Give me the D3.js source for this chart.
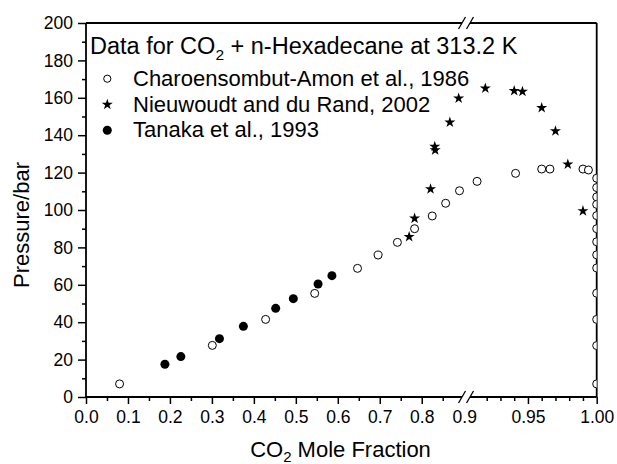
<!DOCTYPE html>
<html>
<head>
<meta charset="utf-8">
<script src="https://cdn.jsdelivr.net/npm/d3@7"></script>
<style>
  body { margin: 0; background: #fff; }
  svg { display: block; font-family: "Liberation Sans", Arial, sans-serif; }
  .tick text { font-size: 17.5px; fill: #000; }
  .tick line { stroke: #000; stroke-width: 1.5; }
</style>
</head>
<body>
<div id="chart"></div>
<script>
// Charoensombut-Amon et al., 1986 (open circles)
const charoX = [0.080, 0.301, 0.428, 0.545, 0.647, 0.696, 0.742, 0.783, 0.825, 0.857, 0.890,
  0.913, 0.941, 0.960, 0.966, 0.990, 0.994,
  1.0, 1.0, 1.0, 1.0, 1.0, 1.0, 1.0, 1.0, 1.0, 1.0, 1.0, 1.0, 1.0];
const charoP = [7, 27.6, 41.5, 55.4, 68.8, 75.9, 82.7, 90, 96.8, 103.6, 110.3,
  115.3, 119.6, 121.9, 121.9, 121.9, 121.4,
  117, 112, 107, 103, 97, 90, 83, 76, 69, 55.5, 41.5, 27.5, 7];

// Nieuwoudt and du Rand, 2002 (stars)
const nieuX = [0.770, 0.783, 0.821, 0.831, 0.832, 0.867, 0.888, 0.919, 0.940, 0.946, 0.960, 0.970, 0.979, 0.990];
const nieuP = [85.7, 95.5, 111.2, 133.9, 132, 146.9, 159.7, 165.1, 163.8, 163.3, 154.7, 142.2, 124.4, 99.5];

// Tanaka et al., 1993 (filled circles)
const tanaX = [0.188, 0.226, 0.318, 0.375, 0.452, 0.494, 0.553, 0.586];
const tanaP = [17.5, 21.6, 31.2, 37.8, 47.4, 52.6, 60.4, 64.9];

const xMajorLeft = [0, 0.1, 0.2, 0.3, 0.4, 0.5, 0.6, 0.7, 0.8];
const xMinorLeft = [0.05, 0.15, 0.25, 0.35, 0.45, 0.55, 0.65, 0.75, 0.85];
const xMajorRight = [0.95, 1.0];
const xMinorRight = [0.92, 0.93, 0.94, 0.96, 0.97, 0.98, 0.99];
const yMajor = [0, 20, 40, 60, 80, 100, 120, 140, 160, 180, 200];
const yMinor = [10, 30, 50, 70, 90, 110, 130, 150, 170, 190];

const W = 617, H = 464;
const box = { left: 86, right: 596.7, top: 23, bottom: 397 };
const breakL = 462, breakR = 470;

const svg = d3.select("#chart").append("svg")
  .attr("width", W)
  .attr("height", H);

// broken x axis: two linear pieces
const xl = d3.scaleLinear().domain([0, 0.9]).range([box.left, 463.7]);
const xr = d3.scaleLinear().domain([0.9, 1.0]).range([459.2, box.right]);
const x = v => (v <= 0.9 ? xl(v) : xr(v));
const y = d3.scaleLinear().domain([0, 200]).range([box.bottom, box.top]);

svg.append("clipPath").attr("id", "plotclip")
  .append("rect")
  .attr("x", box.left).attr("y", box.top)
  .attr("width", box.right - box.left).attr("height", box.bottom - box.top);

// axes
function addAxis(axis, tx, ty) {
  const g = svg.append("g")
    .attr("transform", `translate(${tx},${ty})`)
    .call(axis);
  g.select(".domain").remove();
  return g;
}

addAxis(d3.axisLeft(y).tickValues(yMajor).tickSize(8).tickPadding(5), box.left, 0);
addAxis(d3.axisLeft(y).tickValues(yMinor).tickSize(4).tickFormat(""), box.left, 0);

addAxis(d3.axisBottom(xl).tickValues(xMajorLeft).tickSize(7).tickPadding(7).tickFormat(d3.format(".1f")), 0, box.bottom);
addAxis(d3.axisBottom(xl).tickValues(xMinorLeft).tickSize(4).tickFormat(""), 0, box.bottom);
addAxis(d3.axisBottom(xr).tickValues(xMajorRight).tickSize(7).tickPadding(7).tickFormat(d3.format(".2f")), 0, box.bottom);
addAxis(d3.axisBottom(xr).tickValues(xMinorRight).tickSize(4).tickFormat(""), 0, box.bottom);

svg.append("text")
  .attr("x", xl(0.9) + 1)
  .attr("y", box.bottom + 7 + 7)
  .attr("dy", "0.71em")
  .attr("text-anchor", "middle")
  .style("font-size", "17.5px")
  .text("0.9");

// frame with breaks on top and bottom
const frame = svg.append("g")
  .attr("fill", "none")
  .attr("stroke", "#000")
  .attr("stroke-width", 1.8);

frame.append("line").attr("x1", box.left).attr("x2", box.left).attr("y1", box.top).attr("y2", box.bottom);
frame.append("line").attr("x1", box.right).attr("x2", box.right).attr("y1", box.top).attr("y2", box.bottom);
[box.top, box.bottom].forEach(yy => {
  frame.append("line").attr("x1", box.left).attr("x2", breakL).attr("y1", yy).attr("y2", yy);
  frame.append("line").attr("x1", breakR).attr("x2", box.right).attr("y1", yy).attr("y2", yy);
  [breakL, breakR].forEach(bx => {
    frame.append("line")
      .attr("stroke-width", 1.3)
      .attr("x1", bx - 3.5).attr("y1", yy + 6)
      .attr("x2", bx + 3.5).attr("y2", yy - 6);
  });
});

// data
const plot = svg.append("g").attr("clip-path", "url(#plotclip)");

plot.selectAll(".charo")
  .data(charoX.map((v, i) => [v, charoP[i]]))
  .join("circle")
  .attr("class", "charo")
  .attr("cx", d => x(d[0]))
  .attr("cy", d => y(d[1]))
  .attr("r", 4)
  .attr("fill", "#fff")
  .attr("stroke", "#000")
  .attr("stroke-width", 1);

const star = d3.symbol().type(d3.symbolStar).size(38);

plot.selectAll(".nieu")
  .data(nieuX.map((v, i) => [v, nieuP[i]]))
  .join("path")
  .attr("class", "nieu")
  .attr("d", star)
  .attr("transform", d => `translate(${x(d[0])},${y(d[1])})`)
  .attr("fill", "#000");

plot.selectAll(".tana")
  .data(tanaX.map((v, i) => [v, tanaP[i]]))
  .join("circle")
  .attr("class", "tana")
  .attr("cx", d => x(d[0]))
  .attr("cy", d => y(d[1]))
  .attr("r", 4.5)
  .attr("fill", "#000");

// axis titles
const xTitle = svg.append("text")
  .attr("x", 340.5)
  .attr("y", 457)
  .attr("text-anchor", "middle")
  .style("font-size", "22px");
xTitle.append("tspan").text("CO");
xTitle.append("tspan").attr("dy", 4.5).style("font-size", "15px").text("2");
xTitle.append("tspan").attr("dy", -4.5).text(" Mole Fraction");

svg.append("text")
  .attr("transform", "translate(29,225) rotate(-90)")
  .attr("text-anchor", "middle")
  .style("font-size", "22px")
  .text("Pressure/bar");

// legend
const lgTitle = svg.append("text")
  .attr("x", 90)
  .attr("y", 54)
  .style("font-size", "23.5px");
lgTitle.append("tspan").text("Data for CO");
lgTitle.append("tspan").attr("dy", 6).style("font-size", "15.5px").text("2");
lgTitle.append("tspan").attr("dy", -6).text(" + n-Hexadecane at 313.2 K");

const legendItems = [
  { label: "Charoensombut-Amon et al., 1986", kind: "open" },
  { label: "Nieuwoudt and du Rand, 2002", kind: "star" },
  { label: "Tanaka et al., 1993", kind: "filled" }
];

legendItems.forEach((item, i) => {
  const base = 85.7 + i * 25.8;
  const cy = base - 7;
  if (item.kind === "open") {
    svg.append("circle").attr("cx", 107.3).attr("cy", cy).attr("r", 3.6)
      .attr("fill", "#fff").attr("stroke", "#000").attr("stroke-width", 1);
  } else if (item.kind === "star") {
    svg.append("path").attr("d", star)
      .attr("transform", `translate(107.3,${cy})`).attr("fill", "#000");
  } else {
    svg.append("circle").attr("cx", 107.3).attr("cy", cy).attr("r", 4.5).attr("fill", "#000");
  }
  svg.append("text")
    .attr("x", 133)
    .attr("y", base)
    .style("font-size", "22px")
    .text(item.label);
});
</script>
</body>
</html>
